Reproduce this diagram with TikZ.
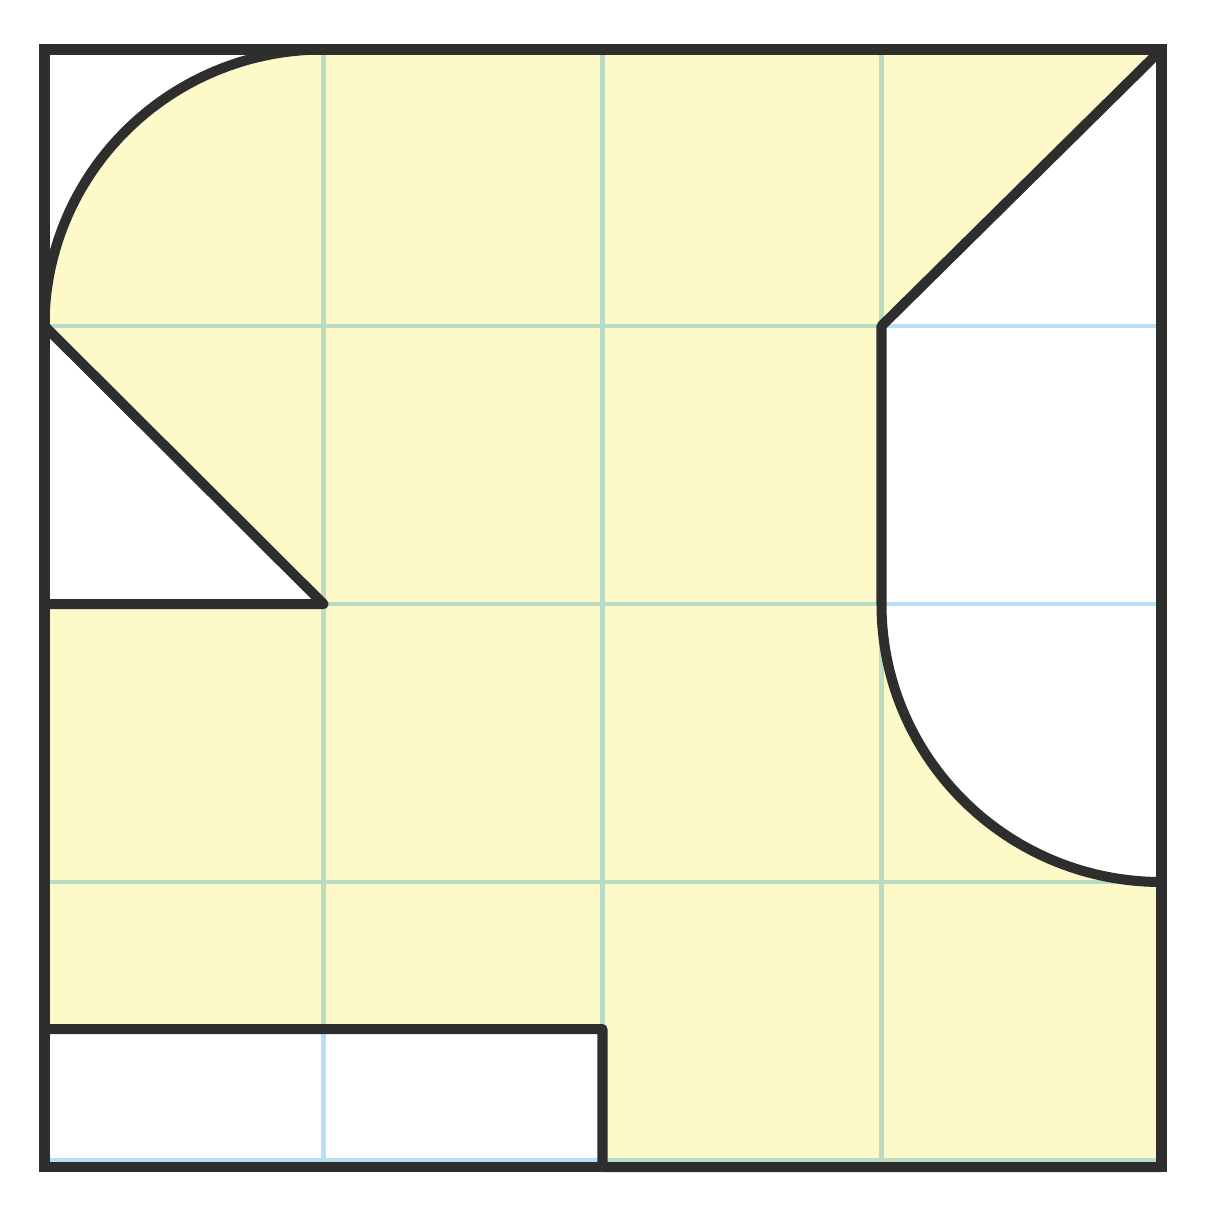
\documentclass[tikz,border=0pt]{standalone}
\definecolor{fillyellow}{HTML}{FDF9C8}
\definecolor{gridblue}{HTML}{B5E0F5}
\definecolor{gridgreen}{HTML}{B8DCC4}
\definecolor{ink}{HTML}{2E2E2E}
\tikzset{
  gridline/.style={line width=1.4pt},
  outline/.style={draw=ink, line width=2.85pt, line join=round},
  frame/.style={draw=ink, line width=3.1pt, line join=miter}
}
\begin{document}
\begin{tikzpicture}[x=0.01cm, y=-0.01cm]
\useasboundingbox (0,0) rectangle (1210,1220);
\def\region{(44.5,326) arc[start angle=180, end angle=270, x radius=279, y radius=276.5]
  -- (1161.5,49.5) -- (881.5,326) -- (881.5,604)
  arc[start angle=180, end angle=90, x radius=280, y radius=278]
  -- (1161.5,1167) -- (602.5,1167) -- (602.5,1029) -- (44.5,1029) -- (44.5,604)
  -- (323.5,604) -- cycle}
% blue grid
\foreach \gx in {323.5,602.5,881.5} \draw[gridline, gridblue] (\gx,48) -- (\gx,1160);
\foreach \gy in {326,604,882,1160} \draw[gridline, gridblue] (44.5,\gy) -- (1161.5,\gy);
% yellow region
\fill[fillyellow] \region;
\begin{scope}
\clip \region;
\foreach \gx in {323.5,602.5,881.5} \draw[gridline, gridgreen] (\gx,48) -- (\gx,1160);
\foreach \gy in {326,604,882,1160} \draw[gridline, gridgreen] (44.5,\gy) -- (1161.5,\gy);
\end{scope}
\draw[outline] \region;
\draw[frame] (44.5,49.5) rectangle (1161.5,1167);
\end{tikzpicture}
\end{document}
